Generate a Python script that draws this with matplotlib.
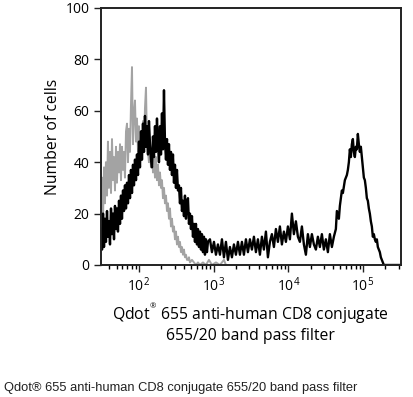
import matplotlib
matplotlib.use("Agg")
import matplotlib.pyplot as plt

# CD8 stained sample (black) - intensity / count
black_x = [31.0, 32.0, 33.0, 34.0, 35.0, 36.1, 37.3, 38.4, 39.6, 40.9, 42.2, 43.5, 44.9, 46.3, 47.7,
           49.2, 50.7, 52.3, 54.0, 55.7, 57.4, 59.2, 61.1, 63.0, 64.9, 67.0, 69.1, 71.2, 73.5, 75.8,
           78.1, 80.6, 83.1, 85.7, 88.4, 91.2, 94.0, 97.0, 100, 103.1, 106.4, 109.7, 113.1, 116.7, 120.3,
           124.1, 128.0, 132.0, 136.1, 140.4, 144.8, 149.3, 154.0, 158.8, 163.8, 168.9, 174.2, 179.7, 185.3,
           191.1, 197.1, 203.2, 209.6, 216.2, 222.9, 229.9, 237.1, 244.5, 252.2, 260.1, 268.2, 276.6, 285.3,
           294.2, 303.4, 312.9, 322.7, 332.8, 343.2, 354.0, 365.0, 376.5, 388.3, 400.4, 413.0, 425.9, 439.2,
           453.0, 467.2, 481.8, 496.9, 512.4, 528.5, 545.0, 562.1, 579.7, 597.8, 616.5, 635.8, 655.7, 676.3,
           697.4, 719.3, 741.8, 765.0, 789.0, 813.7, 839.1,
           892.5, 949.2, 1010, 1074, 1142, 1215, 1292, 1374, 1461, 1554, 1653, 1758, 1870, 1989, 2116, 2250,
           2393, 2545, 2707, 2879, 3062, 3257, 3464, 3684, 3918, 4167, 4432, 4714, 5014, 5333, 5672, 6033,
           6417, 6825, 7259, 7720, 8211, 8733, 9289, 9879, 10507, 11175, 11886, 12642, 13446, 14301, 15210,
           16177, 17206, 18300, 19464, 20702, 22018, 23418, 24908, 26492, 28176, 29968, 31874, 33901, 36057,
           38350, 40789, 43383,
           44741, 47586, 49075, 50611, 52195, 53829, 57251, 60891, 62797, 64763, 66790, 68880, 71036, 73260,
           75553, 77918, 80357, 82872, 85466, 88141, 90900, 93745, 96679, 99705, 102826, 106044, 109363,
           112786, 116317, 119958, 123712, 127584, 131578, 135696, 139943, 144323, 148841, 153499, 158304,
           163259, 168369, 173639, 179074, 184679, 190459, 322000]
black_y = [14, 6, 20, 7, 18, 9, 21, 11, 17, 8, 22, 12, 20, 10, 23,
           14, 22, 13, 25, 16, 27, 18, 29, 21, 31, 22, 32, 24, 35, 26,
           37, 28, 39, 31, 41, 33, 43, 35, 48, 38, 52, 41, 55, 44, 58,
           46, 54, 43, 56, 47, 41, 38, 50, 42, 54, 44, 57, 47, 40,
           54, 43, 59, 45, 68, 48, 41, 49, 39, 47, 37, 44, 35, 43,
           32, 39, 30, 37, 29, 31, 24, 30, 21, 25, 19, 27, 18, 24,
           26, 16, 20, 14, 19, 11, 16, 9, 16, 8, 14, 7, 13, 6,
           12, 5, 11, 4, 10, 5, 9,
           10, 5, 9, 4, 8, 4, 10, 3, 9, 2, 7, 3, 8, 4, 9, 4,
           9, 4, 10, 5, 10, 6, 11, 5, 10, 4, 11, 6, 13, 3, 9, 12,
           7, 14, 9, 15, 8, 13, 9, 15, 10, 20, 12, 17, 11, 9, 15,
           8, 4, 12, 7, 12, 8, 6, 11, 7, 12, 6, 10, 5, 12,
           7, 11, 14,
           21, 18, 23, 26, 29, 28, 33, 35, 37, 40, 45, 42, 47, 49,
           44, 42, 46, 45, 51, 47, 44, 46, 42, 38, 34, 33, 30,
           26, 25, 22, 20, 17, 15, 11, 12, 10, 9, 10, 7,
           6, 5, 3, 2, 1, 0, 0]

# unstained control (grey)
grey_x = [31.0, 32.0, 33.0, 34.0, 35.0, 36.1, 37.3, 38.4, 39.6, 40.9, 42.2, 43.5, 44.9, 46.3, 47.7,
          49.2, 50.7, 52.3, 54.0, 55.7, 57.4, 59.2, 61.1, 63.0, 64.9, 67.0, 69.1, 71.2, 73.5, 75.8,
          78.1, 80.6, 83.1, 85.7, 88.4, 91.2, 94.0, 97.0, 100, 103.1, 106.4, 109.7, 113.1, 116.7, 120.3,
          124.1, 128.0, 132.0, 136.1, 140.4, 144.8, 149.3, 154.0, 158.8, 163.8, 168.9, 174.2, 179.7, 185.3,
          191.1, 197.1, 203.2, 209.6, 216.2, 222.9, 229.9, 237.1, 244.5, 252.2, 260.1, 268.2, 276.6, 285.3,
          294.2, 303.4, 312.9, 322.7, 332.8, 343.2, 354.0, 365.0, 376.5, 388.3, 400.4, 413.0, 425.9, 439.2,
          453.0, 467.2, 481.8, 512.4, 545.0, 579.7, 616.5, 655.7, 719.3, 789.0, 866, 949.2, 1074, 1215,
          1374, 1461]
grey_y = [22, 34, 18, 38, 24, 40, 27, 48, 30, 44, 28, 49, 33, 42, 29,
          46, 32, 44, 36, 47, 33, 46, 37, 44, 34, 52, 55, 40, 53, 44,
          62, 77, 47, 59, 64, 48, 57, 44, 54, 42, 51, 41, 56, 45, 61,
          69, 47, 44, 40, 47, 38, 45, 36, 43, 34, 42, 33, 39, 31,
          36, 30, 33, 26, 30, 24, 27, 21, 24, 18, 22, 15, 18, 13,
          15, 10, 13, 8, 11, 7, 9, 5, 7, 4, 6, 3, 4, 2,
          2, 3, 1, 2, 1, 0, 1, 0, 1, 0, 2, 0, 1, 0,
          2, 0]

y_ticks = [0, 20, 40, 60, 80, 100]
x_ticks = [1e2, 1e3, 1e4, 1e5]
x_labels = [r"$10^{2}$", r"$10^{3}$", r"$10^{4}$", r"$10^{5}$"]

plt.rcParams['font.family'] = ['Open Sans', 'DejaVu Sans']
plt.rcParams['mathtext.fontset'] = 'custom'
plt.rcParams['mathtext.rm'] = 'Open Sans'
plt.rcParams['mathtext.it'] = 'Open Sans'

fig = plt.figure(figsize=(4.13, 3.97), dpi=100)
ax = fig.add_axes([0.2438, 0.3325, 0.727, 0.6474])

ax.plot(grey_x, grey_y, color="#a3a3a3", lw=1.4)
ax.plot(black_x, black_y, color="black", lw=1.7)

ax.set_xscale("log")
ax.set_xlim(30.7, 322700)
ax.set_ylim(0, 100)
ax.set_yticks(y_ticks)
ax.set_xticks(x_ticks)
ax.set_xticklabels(x_labels)
ax.tick_params(axis="both", direction="out", length=5, width=1, labelsize=10, pad=3,
               color="#222222", labelcolor="black")
ax.tick_params(axis="x", which="minor", length=3, width=1)
ax.tick_params(axis="y", which="minor", left=False)
for s in ax.spines.values():
    s.set_linewidth(1.4)
    s.set_color("#222222")

ax.set_ylabel("Number of cells", fontsize=11.3, labelpad=3)
ax.set_xlabel("Qdot$^{{}^{®}}$ 655 anti-human CD8 conjugate\n655/20 band pass filter",
              fontsize=11.3, labelpad=5, linespacing=1.15)

fig.text(0.01, 0.015, "Qdot® 655 anti-human CD8 conjugate 655/20 band pass filter",
         family="Liberation Sans", fontsize=9.3, color="#222222")

fig.savefig("out.png", dpi=100)
